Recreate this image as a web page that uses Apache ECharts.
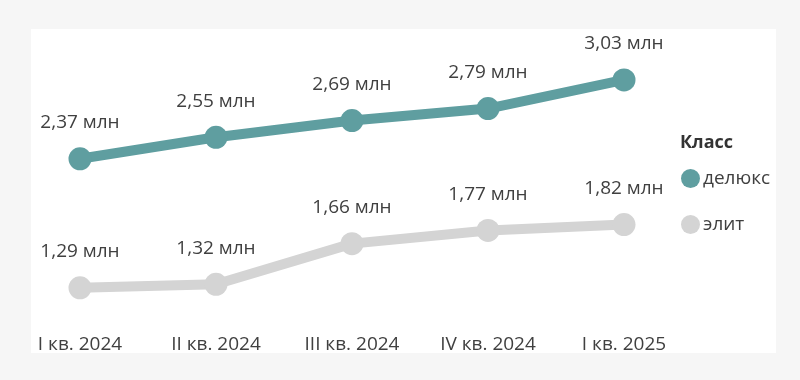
<!DOCTYPE html>
<html><head><meta charset="utf-8">
<script src="https://cdn.jsdelivr.net/npm/echarts@6/dist/echarts.min.js"></script>
<style>html,body{margin:0;padding:0;background:#f6f6f6;}#c{width:800px;height:380px;}</style>
</head><body><div id="c"></div>
<script>
const categories = ['I кв. 2024', 'II кв. 2024', 'III кв. 2024', 'IV кв. 2024', 'I кв. 2025'];
const deluxe = [2.37, 2.55, 2.69, 2.79, 3.03];
const elite = [1.29, 1.32, 1.66, 1.77, 1.82];
const seriesNames = ['делюкс', 'элит'];
const legendTitle = 'Класс';

const chart = echarts.init(document.getElementById('c'), null, {renderer: 'canvas'});
const FONT = '"Open Sans", sans-serif';
const fmt = p => p.value.toFixed(2).replace('.', ',') + ' млн';
function mk(name, data, color) {
  return {
    name, type: 'line', data,
    symbol: 'circle', symbolSize: 23,
    lineStyle: {width: 10, color},
    itemStyle: {color},
    label: {show: true, position: 'top', distance: 15, formatter: fmt,
      color: '#404040', fontSize: 19, fontFamily: FONT},
    emphasis: {disabled: true},
    animation: false
  };
}
chart.setOption({
  backgroundColor: '#f6f6f6',
  animation: false,
  graphic: [{type: 'rect', shape: {x: 31, y: 29, width: 745, height: 324}, style: {fill: '#ffffff'}, z: -10}],
  title: {text: legendTitle, left: 680, top: 134, padding: 0,
    textStyle: {fontSize: 18, fontWeight: 'bold', color: '#333', fontFamily: FONT}},
  legend: {orient: 'vertical', left: 681, top: 169, padding: 0, itemGap: 27, icon: 'circle',
    itemWidth: 19, itemHeight: 19,
    textStyle: {fontSize: 19, color: '#404040', fontFamily: FONT, padding: [0, 0, 0, -2]},
    data: seriesNames},
  grid: {left: 80, right: 176, top: 35.7, bottom: 57.5},
  xAxis: {type: 'category', data: categories, boundaryGap: false,
    axisLine: {show: false}, axisTick: {show: false},
    axisLabel: {color: '#404040', fontSize: 19, fontFamily: FONT, margin: 13, interval: 0}},
  yAxis: {type: 'value', min: 1, max: 3.4, show: false, splitLine: {show: false}},
  series: [mk(seriesNames[0], deluxe, '#5f9ea0'), mk(seriesNames[1], elite, '#d4d4d4')]
});
</script></body></html>
